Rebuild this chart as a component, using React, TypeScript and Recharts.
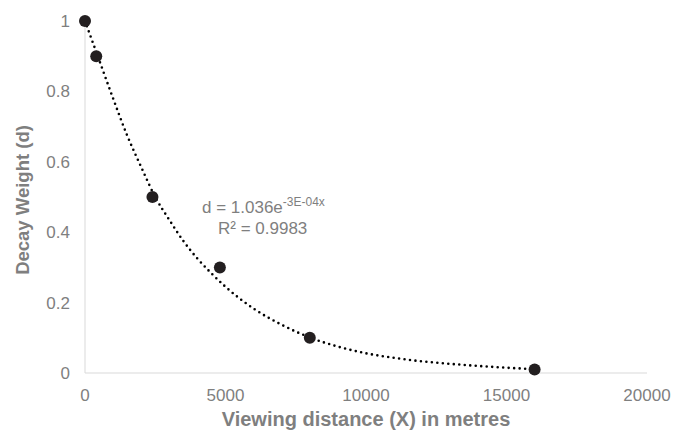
import React from 'react'
import { ComposedChart, XAxis, YAxis, Line, Scatter, Customized } from 'recharts'

// observed points: viewing distance (m) vs decay weight
const distances = [0, 400, 2400, 4800, 8000, 16000]
const weights = [1, 0.9, 0.5, 0.3, 0.1, 0.01]

// exponential trendline
const trendX = [0, 500, 1000, 1500, 2000, 2500, 3000, 3500, 4000, 4500, 5000, 6000, 7000, 8000, 9000, 10000, 11000, 12000, 13000, 14000, 15000, 16000]
const trendY = [1.0, 0.89, 0.78, 0.675, 0.585, 0.5, 0.435, 0.375, 0.325, 0.283, 0.245, 0.183, 0.137, 0.101, 0.075, 0.056, 0.043, 0.033, 0.026, 0.02, 0.015, 0.011]

const xTicks = [0, 5000, 10000, 15000, 20000]
const yTicks = [0, 0.2, 0.4, 0.6, 0.8, 1]

const equation = 'd = 1.036e'
const equationExp = '-3E-04x'
const rSquared = 'R² = 0.9983'

const points = distances.map((x, i) => ({ x, y: weights[i] }))
const trend = trendX.map((x, i) => ({ x, y: trendY[i] }))

const FONT = '"Liberation Sans", Arial, sans-serif'
const GRAY = '#7f7f7f'

const Dot = (props: any) => <circle cx={props.cx} cy={props.cy} r={6} fill="#231f20" />

const Annotations = () => (
  <g fontFamily={FONT} fill={GRAY}>
    <text x={202} y={213} fontSize={17}>
      {equation}
      <tspan fontSize={12} dy={-7}>{equationExp}</tspan>
    </text>
    <text x={218} y={234} fontSize={17}>{rSquared}</text>
    <text x={366} y={426} fontSize={20} fontWeight="bold" textAnchor="middle">
      Viewing distance (X) in metres
    </text>
    <text
      x={0}
      y={0}
      fontSize={18.5}
      fontWeight="bold"
      textAnchor="middle"
      transform="translate(29 200) rotate(-90)"
    >
      Decay Weight (d)
    </text>
  </g>
)

export default function App() {
  return (
    <div style={{ position: 'absolute', left: 0, top: 0, width: 673, height: 432, background: '#fff' }}>
      <ComposedChart width={673} height={432} margin={{ top: 21, right: 26, bottom: 0, left: 0 }}>
        <XAxis
          type="number"
          dataKey="x"
          domain={[0, 20000]}
          ticks={xTicks}
          height={59}
          tickLine={false}
          tickSize={0}
          tickMargin={16}
          stroke="#d9d9d9"
          tick={{ fill: GRAY, fontSize: 17, fontFamily: FONT }}
        />
        <YAxis
          type="number"
          dataKey="y"
          domain={[0, 1]}
          ticks={yTicks}
          width={85}
          tickLine={false}
          tickSize={0}
          tickMargin={15}
          stroke="#d9d9d9"
          tick={{ fill: GRAY, fontSize: 17, fontFamily: FONT }}
        />
        <Line
          data={trend}
          dataKey="y"
          type="monotone"
          stroke="#000"
          strokeWidth={2.6}
          strokeDasharray="0 5.5"
          strokeLinecap="round"
          dot={false}
          activeDot={false}
          isAnimationActive={false}
        />
        <Scatter data={points} dataKey="y" shape={Dot} isAnimationActive={false} />
        <Customized component={Annotations} />
      </ComposedChart>
    </div>
  )
}
